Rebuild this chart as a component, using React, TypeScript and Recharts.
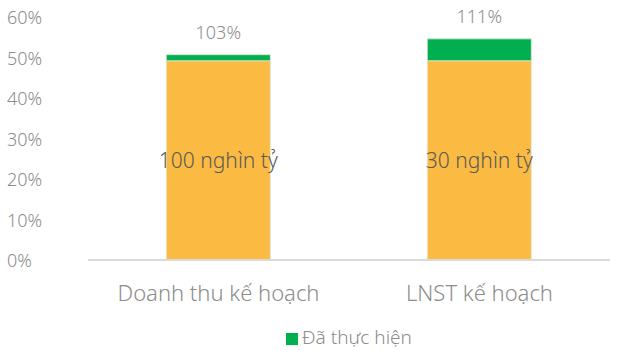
import { BarChart, Bar, XAxis, YAxis, Legend, LabelList } from 'recharts';

const categories = ['Doanh thu kế hoạch', 'LNST kế hoạch'];
const planValues = [49.2, 49.2];
const doneValues = [1.5, 5.4];
const planLabels = ['100 nghìn tỷ', '30 nghìn tỷ'];
const doneLabels = ['103%', '111%'];
const yTicks = [0, 10, 20, 30, 40, 50, 60];

const data = categories.map((name, i) => ({
  name,
  plan: planValues[i],
  done: doneValues[i],
  planLabel: planLabels[i],
  doneLabel: doneLabels[i],
}));

const FONT = "'Noto Sans', sans-serif";
const GRAY = '#8c8c8c';

function YTick(props: any) {
  const { x, y, payload } = props;
  return (
    <text x={x - 73} y={y} dy={7} textAnchor="start" fill={GRAY} fontSize={18} fontFamily={FONT} fontWeight={300}>
      {`${payload.value}%`}
    </text>
  );
}

export default function App() {
  return (
    <div style={{ position: 'absolute', left: 0, top: 0, background: '#fff' }}>
      <BarChart
        width={617}
        height={351}
        data={data}
        margin={{ top: 17, right: 7, left: 0, bottom: 0 }}
        barCategoryGap="30%"
      >
        <XAxis
          dataKey="name"
          axisLine={{ stroke: '#d9d9d9', strokeWidth: 2 }}
          tickLine={false}
          tick={{ fill: GRAY, fontSize: 22, fontFamily: FONT, fontWeight: 300 }}
          tickMargin={19}
          height={65}
        />
        <YAxis
          domain={[0, 60]}
          ticks={yTicks}
          axisLine={false}
          tickLine={false}
          width={88}
          tick={<YTick />}
        />
        <Legend
          verticalAlign="bottom"
          iconType="square"
          iconSize={12}
          wrapperStyle={{ fontFamily: FONT, fontSize: 19, fontWeight: 300, left: 93, width: 522, bottom: 1 }}
          formatter={(value) => <span style={{ color: GRAY }}>{value}</span>}
        />
        <Bar
          dataKey="plan"
          name="Kế hoạch"
          stackId="a"
          fill="#fbbb43"
          stroke="#dde9cf"
          strokeWidth={0.8}
          legendType="none"
          isAnimationActive={false}
        >
          <LabelList
            dataKey="planLabel"
            position="center"
            fill="#595959"
            fontSize={21}
            fontFamily={FONT}
            fontWeight={300}
          />
        </Bar>
        <Bar
          dataKey="done"
          name="Đã thực hiện"
          stackId="a"
          fill="#00b050"
          stroke="#dde9cf"
          strokeWidth={0.8}
          isAnimationActive={false}
        >
          <LabelList
            dataKey="doneLabel"
            position="top"
            offset={16}
            fill={GRAY}
            fontSize={18}
            fontFamily={FONT}
            fontWeight={300}
          />
        </Bar>
      </BarChart>
    </div>
  );
}
